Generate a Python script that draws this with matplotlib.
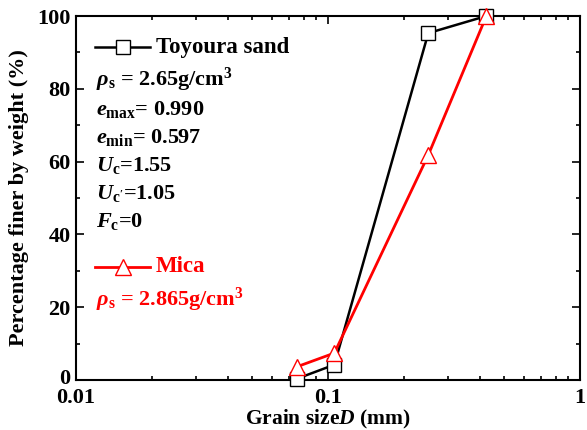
import matplotlib
matplotlib.use("Agg")
import matplotlib.pyplot as plt
import matplotlib.transforms as mtransforms
from matplotlib.ticker import LogLocator, MultipleLocator, FixedLocator, NullFormatter

plt.rcParams['font.family'] = ['Liberation Serif', 'DejaVu Serif']
plt.rcParams['font.weight'] = 'bold'
plt.rcParams['mathtext.fontset'] = 'custom'
plt.rcParams['mathtext.rm'] = 'Liberation Serif:bold'
plt.rcParams['mathtext.bf'] = 'Liberation Serif:bold'
plt.rcParams['mathtext.it'] = 'Liberation Serif:bold:italic'

toyoura_d = [0.075, 0.106, 0.25, 0.425]
toyoura_p = [0.3, 4.2, 95.3, 100.0]
mica_d = [0.075, 0.106, 0.25, 0.425]
mica_p = [3.6, 7.4, 61.8, 100.0]

xticks = [0.01, 0.1, 1]
xticklabels = ['0.01', '0.1', '1']
yticks = [0, 20, 40, 60, 80, 100]

fig = plt.figure(figsize=(5.87, 4.30), dpi=100)
W, H = 587, 430
ax = fig.add_axes([76 / W, 1 - 380 / H, (580 - 76) / W, (380 - 16) / H])

ax.plot(toyoura_d, toyoura_p, color='black', lw=1.8, marker='s', ms=10,
        mfc='white', mec='black', mew=1.0, clip_on=False, zorder=3)
ax.plot(mica_d, mica_p, color='red', lw=2.0, marker='^', ms=12,
        mfc='white', mec='red', mew=1.0, clip_on=False, zorder=3)

ax.set_xscale('log')
ax.set_xlim(0.01, 1)
ax.set_ylim(0, 100)
ax.xaxis.set_major_locator(FixedLocator(xticks))
ax.set_xticklabels(xticklabels)
ax.xaxis.set_minor_locator(LogLocator(base=10, subs=range(2, 10)))
ax.xaxis.set_minor_formatter(NullFormatter())
ax.set_yticks(yticks)
ax.yaxis.set_minor_locator(MultipleLocator(10))

ax.tick_params(which='both', direction='in', top=True, right=True, labelsize=16, width=1.2)
ax.tick_params(which='major', length=6)
ax.tick_params(axis='x', which='major', pad=6)
ax.tick_params(axis='y', which='major', pad=4)
ax.tick_params(which='minor', length=3)
for lab in ax.get_xticklabels() + ax.get_yticklabels():
    lab.set_fontweight('bold')
for s in ax.spines.values():
    s.set_linewidth(1.5)

# nudge the y "0" label up a little so it does not collide with "0.01"
ylab0 = ax.get_yticklabels()[0]
ylab0.set_transform(ylab0.get_transform() +
                    mtransforms.ScaledTranslation(0, 4 / 100, fig.dpi_scale_trans))

ax.set_xlabel('Grain size$\\mathit{D}$ (mm)', fontsize=15.5, fontweight='bold', labelpad=0)
ax.set_ylabel('Percentage finer by weight (%)', fontsize=16, fontweight='bold', labelpad=6)

def px(x, y):
    return ((x - 76) / (580 - 76), (380 - y) / (380 - 16))

x0, x1 = px(95, 0)[0], px(150, 0)[0]
yl = px(0, 47)[1]
ax.plot([x0, x1], [yl, yl], transform=ax.transAxes, color='black', lw=1.8,
        clip_on=False)
ax.plot([(x0 + x1) / 2], [yl], transform=ax.transAxes, marker='s', ms=10,
        mfc='white', mec='black', mew=1.0, clip_on=False)
ax.text(px(156, 0)[0], yl, 'Toyoura sand', transform=ax.transAxes,
        fontsize=16.5, fontweight='bold', va='center', ha='left')

ym = px(0, 267)[1]
ax.plot([x0, x1], [ym, ym], transform=ax.transAxes, color='red', lw=2.0,
        clip_on=False)
ax.plot([(x0 + x1) / 2], [ym], transform=ax.transAxes, marker='^', ms=12,
        mfc='white', mec='red', mew=1.0, clip_on=False)
ax.text(px(156, 0)[0], ym, 'Mica', transform=ax.transAxes, color='red',
        fontsize=16.5, fontweight='bold', va='center', ha='left')

lines = [
    (80, '$\\mathit{\\rho}_{\\mathrm{s}}$ = 2.65g/cm$^3$', 'black'),
    (110, '$\\mathit{e}_{\\mathrm{max}}$= 0.990', 'black'),
    (138, '$\\mathit{e}_{\\mathrm{min}}$= 0.597', 'black'),
    (166, '$\\mathit{U}_{\\mathrm{c}}$=1.55', 'black'),
    (194, "$\\mathit{U}_{\\mathrm{c'}}$=1.05", 'black'),
    (222, '$\\mathit{F}_{\\mathrm{c}}$=0', 'black'),
    (300, '$\\mathit{\\rho}_{\\mathrm{s}}$ = 2.865g/cm$^3$', 'red'),
]
for y, t, c in lines:
    ax.text(px(96, 0)[0], px(0, y)[1], t, transform=ax.transAxes, color=c,
            fontsize=16, fontweight='bold', va='center', ha='left')

fig.savefig('out.png', dpi=100)
